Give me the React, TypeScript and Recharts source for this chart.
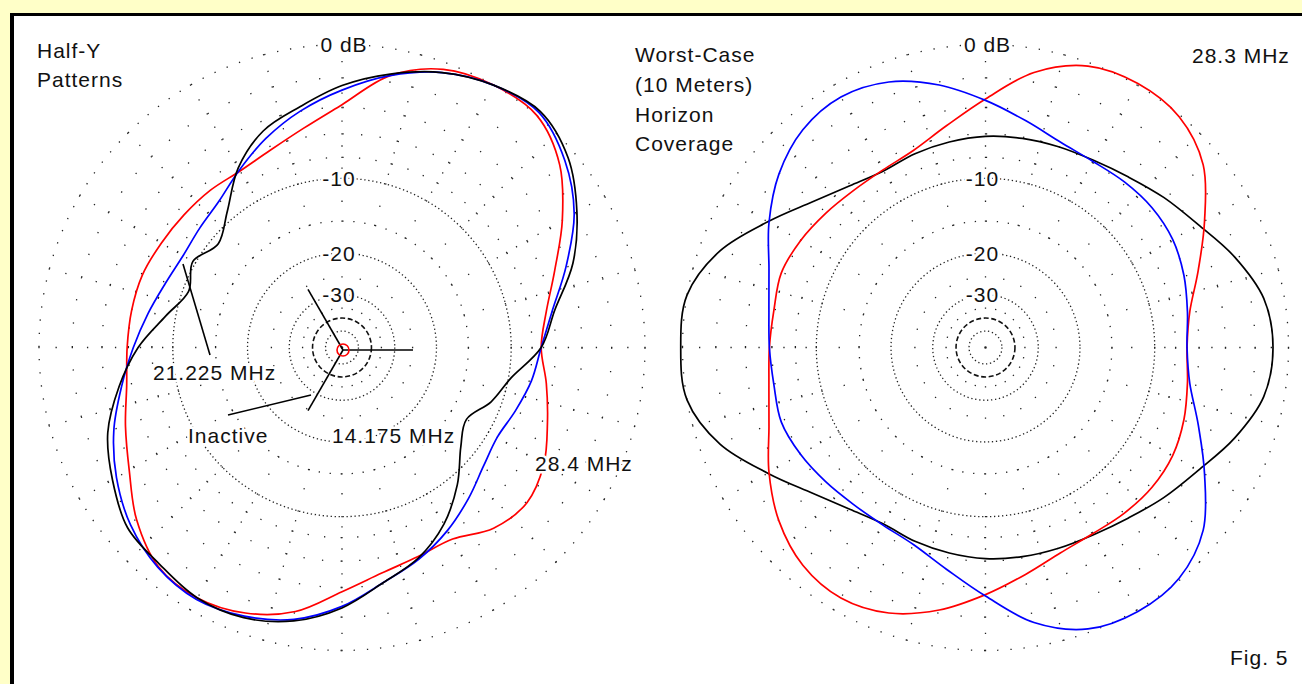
import React from "react";
import { RadarChart, Radar, PolarGrid, PolarAngleAxis, PolarRadiusAxis } from "recharts";

// Azimuth (degrees, 0 = right, counter-clockwise)
const ANGLES = [0, 10, 20, 30, 40, 50, 60, 70, 80, 90, 100, 110, 120, 130, 140, 150, 160, 170, 180, 190, 200, 210, 220, 230, 240, 250, 260, 270, 280, 290, 300, 310, 320, 330, 340, 350];

// Left plot: Half-Y patterns (dB)
const LEFT_28_4 = [-7.2, -6.5, -5.0, -3.0, -1.1, 0.0, 0.0, -0.4, -1.6, -3.8, -5.3, -6.3, -6.8, -6.7, -6.6, -6.4, -6.1, -6.0, -5.9, -5.6, -4.7, -3.6, -2.1, -1.0, -0.8, -1.2, -2.1, -3.7, -4.8, -5.3, -5.4, -4.3, -3.9, -4.5, -5.6, -6.5];
const LEFT_21_225 = [-7.2, -6.0, -4.1, -2.1, -0.7, 0.2, 0.0, -0.6, -1.6, -2.8, -4.0, -5.3, -6.7, -7.9, -8.4, -8.6, -8.2, -7.4, -6.4, -5.2, -3.8, -2.6, -1.6, -0.95, -0.7, -1.0, -1.6, -2.7, -4.1, -5.1, -6.2, -7.4, -8.5, -9.0, -8.5, -7.8];
const LEFT_14_175 = [-7.2, -5.8, -3.6, -1.9, -0.45, 0.3, 0.0, -0.6, -1.5, -2.5, -3.7, -4.7, -6.5, -9.1, -10.8, -9.7, -10.6, -9.0, -6.8, -5.0, -3.35, -2.3, -1.35, -1.15, -0.8, -0.9, -1.5, -2.6, -4.1, -5.2, -6.8, -9.0, -11.5, -12.8, -11.1, -9.7];

// Right plot: worst-case (10 m) horizon coverage (dB)
const RIGHT_BLACK = [-0.9, -1.2, -2.3, -3.6, -4.5, -5.3, -5.8, -6.0, -6.1, -6.2, -6.4, -6.6, -6.8, -6.2, -5.0, -3.2, -1.2, 0.0, 0.1, 0.0, -1.2, -3.2, -5.0, -6.2, -6.8, -6.6, -6.4, -6.2, -6.1, -6.0, -5.8, -5.3, -4.5, -3.6, -2.3, -1.2];
const RIGHT_RED = [-7.0, -6.5, -5.0, -3.1, -1.1, -0.1, 0.1, -0.2, -1.4, -3.4, -5.1, -6.3, -6.7, -6.7, -6.4, -6.0, -5.7, -5.9, -5.8, -5.5, -4.7, -3.3, -2.0, -1.1, -0.8, -1.2, -2.2, -3.5, -4.7, -5.6, -5.9, -5.8, -5.7, -5.8, -6.2, -6.7];
const RIGHT_BLUE = [-7.0, -6.7, -6.2, -5.8, -5.7, -5.8, -5.9, -5.6, -4.7, -3.5, -2.2, -1.2, -0.8, -1.1, -2.0, -3.3, -4.7, -5.5, -5.8, -5.9, -5.7, -6.0, -6.4, -6.7, -6.7, -6.3, -5.1, -3.4, -1.4, -0.2, 0.1, -0.1, -1.1, -3.1, -5.0, -6.5];

// Grid (ARRL log scale)
const RING_LABELS = ["0 dB", "-10", "-20", "-30"];
const RING_LABEL_DB = [0, -10, -20, -30];
const DENSE_RINGS_DB = [-10, -20, -30, -50];
const SPARSE_RINGS_DB = [-2, -4, -6, -8, -15];
const DASHED_RINGS_DB = [-40];
const SPOKE_ANGLES = [0, 15, 30, 45, 60, 75, 90, 105, 120, 135, 150, 165, 180, 195, 210, 225, 240, 255, 270, 285, 300, 315, 330, 345];
const SPOKE_DOT_DB = [0, -1, -2, -3, -4, -5, -6, -7, -8, -9, -10, -12.5, -15, -25, -35];

const W = 1302;
const H = 684;
const CY = 347.5;
const R0 = 303; // 0 dB radius
const SCALE_MAX = 1.1;
const FONT = "'Liberation Sans', Arial, sans-serif";
const DOT = "#222";

const arrl = (db: number) => Math.pow(0.89, -db / 2);
const rad = (db: number) => R0 * arrl(db);

function spokeDash(): string {
  const radii = SPOKE_DOT_DB.map(rad).sort((a, b) => a - b);
  const d = 1.3;
  const arr: number[] = [0, radii[0] - d / 2];
  let pos = radii[0] - d / 2;
  for (let i = 0; i < radii.length; i++) {
    arr.push(d);
    pos += d;
    const next = i + 1 < radii.length ? radii[i + 1] - d / 2 : R0 * SCALE_MAX + 40;
    arr.push(Math.max(0.1, next - pos));
    pos = next;
  }
  return arr.map((v) => v.toFixed(2)).join(" ");
}

// closed Catmull-Rom curve through the points that Recharts computed
function smoothClosed(pts: { x: number; y: number }[]): string {
  const n = pts.length;
  if (!n) return "";
  let d = `M${pts[0].x.toFixed(2)},${pts[0].y.toFixed(2)}`;
  for (let i = 0; i < n; i++) {
    const p0 = pts[(i - 1 + n) % n];
    const p1 = pts[i];
    const p2 = pts[(i + 1) % n];
    const p3 = pts[(i + 2) % n];
    const c1x = p1.x + (p2.x - p0.x) / 6;
    const c1y = p1.y + (p2.y - p0.y) / 6;
    const c2x = p2.x - (p3.x - p1.x) / 6;
    const c2y = p2.y - (p3.y - p1.y) / 6;
    d += ` C${c1x.toFixed(2)},${c1y.toFixed(2)} ${c2x.toFixed(2)},${c2y.toFixed(2)} ${p2.x.toFixed(2)},${p2.y.toFixed(2)}`;
  }
  return d + " Z";
}

type Series = { key: string; values: number[]; color: string };

function PolarPlot({ width, cx, series }: { width: number; cx: number; series: Series[] }) {
  const data = ANGLES.map((a, i) => {
    const row: Record<string, number> = { angle: a };
    series.forEach((s) => {
      row[s.key] = arrl(s.values[i]);
    });
    return row;
  });
  const ringEls: React.ReactNode[] = [];
  const ring0 = rad(0);
  const sp0 = (2 * Math.PI * ring0) / 144;
  ringEls.push(
    <PolarGrid key="r0" gridType="circle" radialLines={false} polarAngles={[]} polarRadius={[ring0]} stroke={DOT} strokeWidth={1.3} strokeDasharray={`1.3 ${(sp0 - 1.3).toFixed(3)}`} />
  );
  SPARSE_RINGS_DB.forEach((db) => {
    const r = rad(db);
    const sp = (2 * Math.PI * r) / 72;
    ringEls.push(
      <PolarGrid key={`s${db}`} gridType="circle" radialLines={false} polarAngles={[]} polarRadius={[r]} stroke={DOT} strokeWidth={1.3} strokeDasharray={`1.3 ${(sp - 1.3).toFixed(3)}`} />
    );
  });
  DENSE_RINGS_DB.forEach((db) => {
    const r = rad(db);
    const n = Math.round((2 * Math.PI * r) / 4);
    const sp = (2 * Math.PI * r) / n;
    ringEls.push(
      <PolarGrid key={`d${db}`} gridType="circle" radialLines={false} polarAngles={[]} polarRadius={[r]} stroke={DOT} strokeWidth={1.3} strokeDasharray={`1.3 ${(sp - 1.3).toFixed(3)}`} />
    );
  });
  DASHED_RINGS_DB.forEach((db) => {
    const r = rad(db);
    ringEls.push(
      <PolarGrid key={`x${db}`} gridType="circle" radialLines={false} polarAngles={[]} polarRadius={[r]} stroke="#111" strokeWidth={1.6} strokeDasharray="5 2.6" />
    );
  });
  ringEls.push(
    <PolarGrid key="center" gridType="circle" radialLines={false} polarAngles={[]} polarRadius={[0.6]} stroke={DOT} strokeWidth={1.4} />
  );
  ringEls.push(
    <PolarGrid key="spokes" gridType="circle" radialLines={true} polarAngles={SPOKE_ANGLES} polarRadius={[]} stroke={DOT} strokeWidth={1.3} strokeDasharray={spokeDash()} />
  );
  return (
    <RadarChart
      width={width}
      height={H}
      data={data}
      cx={cx}
      cy={CY}
      innerRadius={0}
      outerRadius={R0 * SCALE_MAX}
      startAngle={0}
      endAngle={360}
      margin={{ top: 0, right: 0, bottom: 0, left: 0 }}
    >
      {ringEls}
      <PolarAngleAxis dataKey="angle" type="number" domain={[0, 360]} tick={false} tickLine={false} axisLine={false} />
      <PolarRadiusAxis type="number" domain={[0, SCALE_MAX]} tick={false} tickLine={false} axisLine={false} />
      {series.map((s) => (
        <Radar
          key={s.key}
          dataKey={s.key}
          stroke={s.color}
          strokeWidth={1.7}
          fill="none"
          fillOpacity={0}
          dot={false}
          isAnimationActive={false}
          shape={(p: any) => (
            <path d={smoothClosed(p.points || [])} fill="none" stroke={s.color} strokeWidth={1.7} />
          )}
        />
      ))}
    </RadarChart>
  );
}

const LEFT_CX = 342;
const RIGHT_CX = 985.5;
const RIGHT_OFFSET = 660;

function Txt({ x, y, children, anchor = "start", halo = false }: { x: number; y: number; children: React.ReactNode; anchor?: string; halo?: boolean }) {
  return (
    <text
      x={x}
      y={y}
      textAnchor={anchor as any}
      fontFamily={FONT}
      fontSize={21}
      letterSpacing={1.0}
      fill="#111"
      stroke={halo ? "#fff" : "none"}
      strokeWidth={halo ? 5 : 0}
      paintOrder="stroke"
    >
      {children}
    </text>
  );
}

export default function App() {
  const armLen = 70;
  const armC = { x: 343, y: 350 };
  const armAngles = [0, 120, 240];
  return (
    <div style={{ position: "fixed", left: 0, top: 0, width: W, height: H, background: "#FFFFC8", overflow: "hidden" }}>
      <div
        style={{
          position: "absolute",
          left: 10,
          top: 13,
          width: 1300,
          height: 680,
          background: "#fff",
          borderLeft: "4px solid #000",
          borderTop: "3px solid #000",
          boxSizing: "border-box",
        }}
      />
      <div style={{ position: "absolute", left: 0, top: 0 }}>
        <PolarPlot
          width={RIGHT_OFFSET}
          cx={LEFT_CX}
          series={[
            { key: "f28_4", values: LEFT_28_4, color: "#ff0000" },
            { key: "f21_225", values: LEFT_21_225, color: "#0000ff" },
            { key: "f14_175", values: LEFT_14_175, color: "#000000" },
          ]}
        />
      </div>
      <div style={{ position: "absolute", left: RIGHT_OFFSET, top: 0 }}>
        <PolarPlot
          width={W - RIGHT_OFFSET}
          cx={RIGHT_CX - RIGHT_OFFSET}
          series={[
            { key: "black", values: RIGHT_BLACK, color: "#000000" },
            { key: "red", values: RIGHT_RED, color: "#ff0000" },
            { key: "blue", values: RIGHT_BLUE, color: "#0000ff" },
          ]}
        />
      </div>
      <svg width={W} height={H} style={{ position: "absolute", left: 0, top: 0, pointerEvents: "none" }}>
        {[LEFT_CX, RIGHT_CX].map((cx) =>
          RING_LABELS.map((lab, i) => (
            <Txt key={`${cx}-${lab}`} x={cx + (i === 0 ? 2 : -3)} y={CY - rad(RING_LABEL_DB[i]) + 7.5} anchor="middle" halo>
              {lab}
            </Txt>
          ))
        )}
        <Txt x={37} y={58}>Half-Y</Txt>
        <Txt x={37} y={87}>Patterns</Txt>
        <Txt x={635} y={62}>Worst-Case</Txt>
        <Txt x={635} y={92}>(10 Meters)</Txt>
        <Txt x={635} y={122}>Horizon</Txt>
        <Txt x={635} y={151}>Coverage</Txt>
        <Txt x={1192} y={63}>28.3 MHz</Txt>
        <Txt x={1230} y={665}>Fig. 5</Txt>
        {armAngles.map((a) => (
          <line
            key={a}
            x1={armC.x}
            y1={armC.y}
            x2={armC.x + armLen * Math.cos((a * Math.PI) / 180)}
            y2={armC.y - armLen * Math.sin((a * Math.PI) / 180)}
            stroke="#000"
            strokeWidth={1.6}
          />
        ))}
        <circle cx={armC.x} cy={armC.y} r={6} fill="none" stroke="#ff0000" strokeWidth={1.6} />
        <line x1={183} y1={264} x2={210} y2={355} stroke="#000" strokeWidth={1.6} />
        <line x1={228} y1={415} x2={311} y2={395} stroke="#000" strokeWidth={1.6} />
        <Txt x={153} y={380} halo>21.225 MHz</Txt>
        <Txt x={188} y={443} halo>Inactive</Txt>
        <Txt x={332} y={443} halo>14.175 MHz</Txt>
        <Txt x={535} y={471} halo>28.4 MHz</Txt>
      </svg>
    </div>
  );
}
